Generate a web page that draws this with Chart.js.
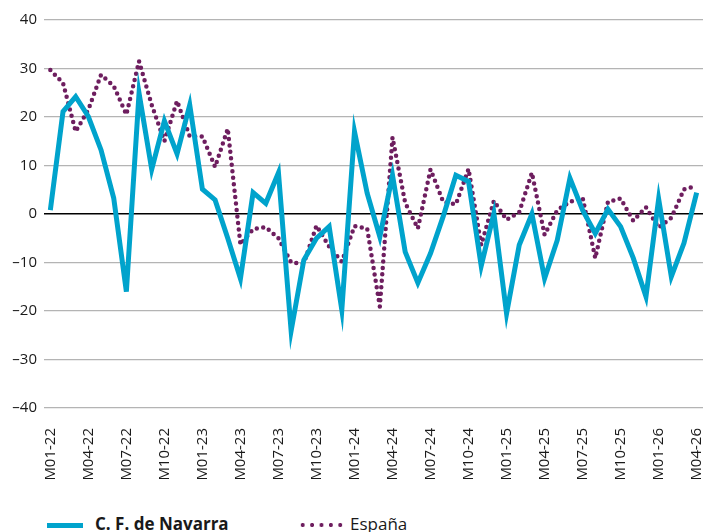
<!DOCTYPE html>
<html>
<head>
<meta charset="utf-8">
<script src="https://cdn.jsdelivr.net/npm/chart.js@4/dist/chart.umd.min.js"></script>
<style>
	body { margin: 0; background: #fff; font-family: 'Open Sans', sans-serif; }
	#wrap { position: relative; width: 713px; height: 532px; overflow: hidden; }
	#box { position: absolute; left: 0; top: 0; width: 713px; height: 505px; }
	.legend { position: absolute; top: 512px; font-size: 17px; color: #1a1a1a; white-space: nowrap; }
	.legend .mark { display: inline-block; vertical-align: middle; }
</style>
</head>
<body>
<div id="wrap">
	<div id="box"><canvas id="chart1"></canvas></div>
	<div class="legend" style="left:47px;">
		<span class="mark" style="width:36px;height:5px;background:#00a3cc;margin-right:12px;"></span><b>C. F. de Navarra</b>
	</div>
	<div class="legend" style="left:298px;">
		<span class="mark" style="width:46px;height:4px;margin-right:6px;background-image:radial-gradient(circle, #6e1e5f 1.9px, transparent 2.2px);background-size:9.4px 4px;"></span>España
	</div>
</div>
<script>
const categories = [
	'M01-22','M02-22','M03-22','M04-22','M05-22','M06-22','M07-22','M08-22','M09-22','M10-22','M11-22','M12-22',
	'M01-23','M02-23','M03-23','M04-23','M05-23','M06-23','M07-23','M08-23','M09-23','M10-23','M11-23','M12-23',
	'M01-24','M02-24','M03-24','M04-24','M05-24','M06-24','M07-24','M08-24','M09-24','M10-24','M11-24','M12-24',
	'M01-25','M02-25','M03-25','M04-25','M05-25','M06-25','M07-25','M08-25','M09-25','M10-25','M11-25','M12-25',
	'M01-26','M02-26','M03-26','M04-26'
];

const navarra = [
	0.8, 21.1, 24.2, 20.1, 13.2, 3.3, -16, 24.9, 9.2, 19.2, 12.4, 22.5,
	5.1, 2.9, -5, -13.3, 4.4, 2.2, 8.5, -24.1, -9.5, -5, -2.6, -19.8,
	17, 4.3, -4.7, 8, -7.8, -14.2, -8.1, -0.5, 8, 6.7, -10.7, 0.1,
	-20.5, -6.4, 0, -13.3, -5.4, 7.4, 0.8, -4, 1, -2.6, -9.1, -17,
	3.1, -12.9, -6, 4.4
];

const espana = [
	29.7, 27, 17, 21.5, 28.7, 26.4, 20.5, 31.5, 22.5, 15, 23.3, 16,
	16, 9.7, 17.6, -6.3, -3.1, -2.7, -5, -10, -10.2, -2.4, -6.7, -9.8,
	-2.5, -3, -19.1, 15.8, 2.3, -3, 9.2, 2.5, 2, 9.3, -6.4, 2.7,
	-1.2, 0.4, 8.5, -4.3, 0.8, 2.5, 3.4, -9.1, 2.5, 3.2, -1.4, 1.4,
	-2.8, -0.8, 5.1, 5.8
];

const yTicks = [-40, -30, -20, -10, 0, 10, 20, 30, 40];

const data = {
	labels: categories,
	datasets: [{
		label: 'C. F. de Navarra',
		data: navarra,
		borderColor: '#00a3cc',
		borderWidth: 5,
		borderJoinStyle: 'miter',
		pointRadius: 0,
		tension: 0
	}, {
		label: 'España',
		data: espana,
		borderColor: '#6e1e5f',
		borderWidth: 4.5,
		borderDash: [0, 6.5],
		borderCapStyle: 'round',
		pointRadius: 0,
		tension: 0
	}]
};

const config = {
	type: 'line',
	data: data,
	options: {
		responsive: true,
		maintainAspectRatio: false,
		animation: false,
		layout: {
			padding: { top: 20, right: 10, left: 0, bottom: 0 }
		},
		scales: {
			x: {
				offset: true,
				grid: { display: false, drawTicks: false },
				border: { display: false },
				ticks: {
					autoSkip: false,
					maxRotation: 90,
					minRotation: 90,
					padding: 20,
					color: '#1a1a1a',
					font: { family: 'Open Sans', size: 15 },
					callback: function (val, i) {
						return i % 3 === 0 ? categories[i] : '';
					}
				},
				afterFit: function (scale) {
					scale.height = 97;
					scale.paddingLeft = 0;
					scale.paddingRight = 0;
				}
			},
			y: {
				min: -40,
				max: 40,
				afterBuildTicks: function (scale) {
					scale.ticks = yTicks.map(v => ({ value: v }));
				},
				grid: {
					drawTicks: false,
					color: (c) => c.tick && c.tick.value === 0 ? '#000000' : '#b4b4b4',
					lineWidth: (c) => c.tick && c.tick.value === 0 ? 1.5 : 1.2
				},
				border: { display: false },
				ticks: {
					padding: 7,
					color: '#1a1a1a',
					font: { family: 'Open Sans', size: 15 },
					callback: (v) => String(v).replace('-', '\u2013')
				},
				afterFit: function (scale) { scale.width = 44; }
			}
		},
		plugins: {
			legend: { display: false },
			tooltip: { enabled: false }
		}
	}
};

var ctx = document.getElementById('chart1');
if (ctx != null) {
	const chart = new Chart(ctx, config);
}
</script>
</body>
</html>
